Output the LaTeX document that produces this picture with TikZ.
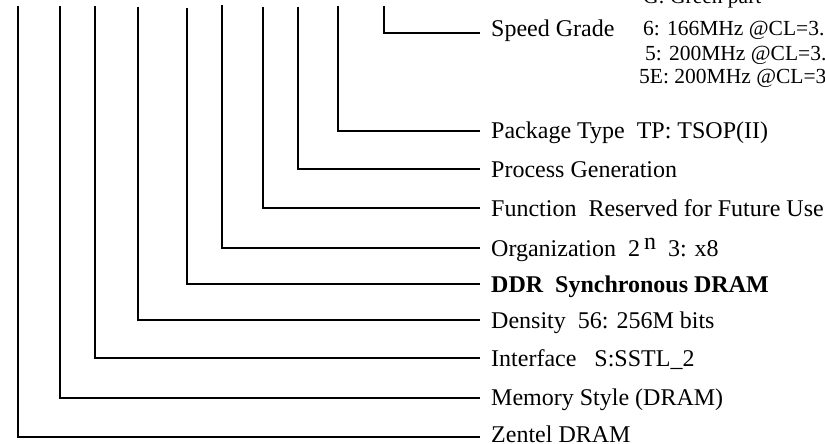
\documentclass[tikz,border=0pt]{standalone}
\usepackage{fontspec}
\setmainfont{Liberation Serif}
\begin{document}
\begin{tikzpicture}[x=1pt,y=-1pt,
  wire/.style={line width=1.4pt, line join=miter},
  lbl/.style={anchor=base west, inner sep=0pt, font=\fontsize{24}{28}\selectfont},
  sub/.style={anchor=base west, inner sep=0pt, font=\fontsize{21.5}{25}\selectfont}]
\useasboundingbox (0,0) rectangle (825,444);
\clip (0,0) rectangle (825,444);
% top ends
\coordinate (t1) at (18,6);
\coordinate (t2) at (60,6);
\coordinate (t3) at (95,6);
\coordinate (t4) at (138,7);
\coordinate (t5) at (187,8);
\coordinate (t6) at (222,5);
\coordinate (t7) at (263,7);
\coordinate (t8) at (298,7);
\coordinate (t9) at (338,6);
\coordinate (t10) at (384,6);
% line ends
\coordinate (e1) at (480,437);
\coordinate (e2) at (480,398);
\coordinate (e3) at (480,358);
\coordinate (e4) at (480,320);
\coordinate (e5) at (480,284);
\coordinate (e6) at (480,248);
\coordinate (e7) at (480,208);
\coordinate (e8) at (480,169);
\coordinate (e9) at (480,131);
\coordinate (e10) at (480,33);
% labels
\node[lbl] (l1) at (491,442) {Zentel DRAM};
\node[lbl] (l2) at (491,405) {Memory Style (DRAM)};
\node[lbl] (l3) at (491,366) {Interface\ \ \ S:SSTL\_2};
\node[lbl] (l4) at (491,328) {Density\ \ 56: 256M bits};
\node[lbl] (l5) at (491,292) {\bfseries DDR\ \ Synchronous DRAM};
\node[lbl] (l6) at (491,256) {Organization\ \ 2\,\raisebox{0.55ex}{n}\ \ 3: x8};
\node[lbl] (l7) at (491,216) {Function\ \ Reserved for Future Use};
\node[lbl] (l8) at (491,177) {Process Generation};
\node[lbl] (l9) at (491,139) {Package Type\ \ TP: TSOP(II)};
\node[lbl] (l10) at (491,37) {Speed Grade};
\node[sub] (s0) at (643,4) {G: Green part};
\node[sub] (s1) at (643,36) {6: 166MHz @CL=3.0};
\node[sub] (s2) at (645,60) {5: 200MHz @CL=3.0};
\node[sub] (s3) at (639,84) {5E: 200MHz @CL=3.0};
% connectors
\foreach \i in {1,...,10} {\draw[wire] (t\i) |- (e\i);}
\end{tikzpicture}
\end{document}
